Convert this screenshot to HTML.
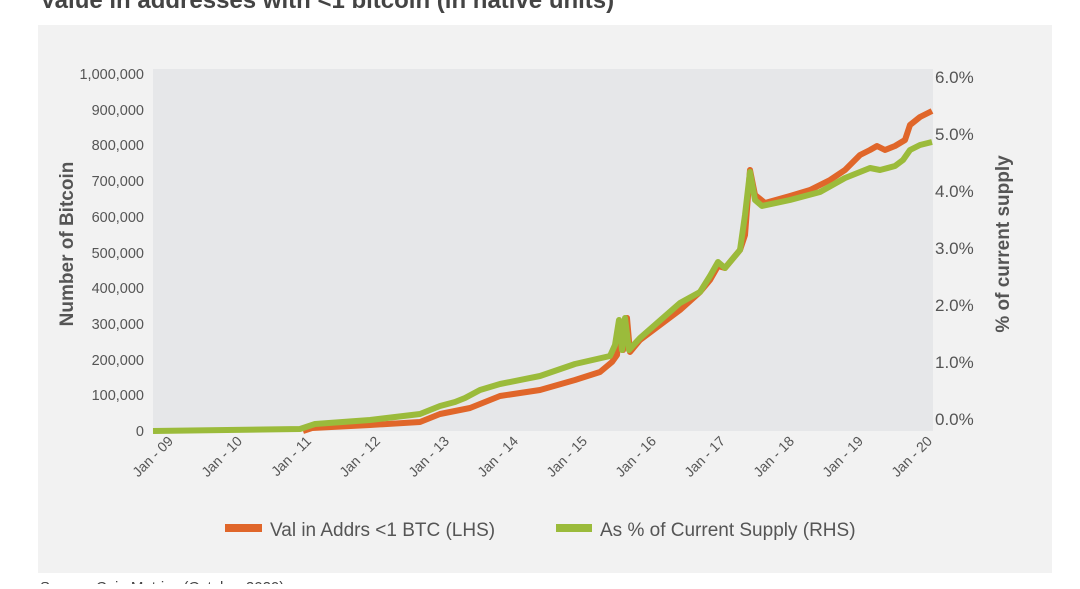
<!DOCTYPE html>
<html><head><meta charset="utf-8"><style>
body{margin:0;background:#fff;width:1080px;height:584px;overflow:hidden;font-family:"Liberation Sans",sans-serif}
</style></head><body>
<svg width="1080" height="584" xmlns="http://www.w3.org/2000/svg" font-family="Liberation Sans, sans-serif">
<text x="40" y="8" font-size="24" font-weight="bold" fill="#444">Value in addresses with &lt;1 bitcoin (in native units)</text>
<rect x="38" y="25" width="1014" height="548" fill="#f2f2f2"/>
<rect x="153" y="69" width="780" height="362" fill="#e6e7e9"/>
<g font-size="14.5" fill="#555" text-anchor="end">
<text x="144" y="79">1,000,000</text><text x="144" y="115">900,000</text><text x="144" y="150">800,000</text>
<text x="144" y="186">700,000</text><text x="144" y="222">600,000</text><text x="144" y="258">500,000</text>
<text x="144" y="293">400,000</text><text x="144" y="329">300,000</text><text x="144" y="365">200,000</text>
<text x="144" y="400">100,000</text><text x="144" y="436">0</text>
</g>
<g font-size="17" fill="#555">
<text x="935" y="83">6.0%</text><text x="935" y="140">5.0%</text><text x="935" y="197">4.0%</text>
<text x="935" y="254">3.0%</text><text x="935" y="311">2.0%</text><text x="935" y="368">1.0%</text><text x="935" y="425">0.0%</text>
</g>
<text transform="translate(73,244) rotate(-90)" text-anchor="middle" font-size="19" font-weight="bold" fill="#555">Number of Bitcoin</text>
<text transform="translate(1009,244) rotate(-90)" text-anchor="middle" font-size="19" font-weight="bold" fill="#555">% of current supply</text>
<g font-size="14" fill="#555" text-anchor="end">
<text transform="translate(174,442) rotate(-45)">Jan - 09</text>
<text transform="translate(243,442) rotate(-45)">Jan - 10</text>
<text transform="translate(312,442) rotate(-45)">Jan - 11</text>
<text transform="translate(381,442) rotate(-45)">Jan - 12</text>
<text transform="translate(450,442) rotate(-45)">Jan - 13</text>
<text transform="translate(519,442) rotate(-45)">Jan - 14</text>
<text transform="translate(588,442) rotate(-45)">Jan - 15</text>
<text transform="translate(657,442) rotate(-45)">Jan - 16</text>
<text transform="translate(726,442) rotate(-45)">Jan - 17</text>
<text transform="translate(795,442) rotate(-45)">Jan - 18</text>
<text transform="translate(864,442) rotate(-45)">Jan - 19</text>
<text transform="translate(933,442) rotate(-45)">Jan - 20</text>
</g>
<polyline fill="none" stroke="#e0662a" stroke-width="6" stroke-linejoin="round" points="303,431 312,428 370,425 420,422 440,414 470,408 480,404 500,396 540,390 575,380 600,372 612,362 617,355 620,322 623,350 627,318 630,352 640,340 680,310 700,292 710,280 718,266 725,268 740,250 745,235 750,170 755,195 765,203 790,196 810,190 830,180 845,170 860,155 870,150 877,146 885,150 895,146 905,140 910,125 920,117 932,111"/>
<polyline fill="none" stroke="#9bbb3b" stroke-width="6" stroke-linejoin="round" points="153,431 300,429 315,424 370,420 420,414 440,406 455,402 465,398 480,390 500,384 540,376 575,364 610,356 615,345 619,320 622,350 625,318 629,350 640,338 680,303 700,292 710,276 718,262 725,268 740,250 745,215 750,172 755,200 762,206 790,200 820,192 845,178 860,172 870,168 880,170 895,166 903,160 910,150 920,145 932,142"/>
<rect x="225" y="524" width="37" height="8" fill="#e0662a"/>
<text x="270" y="536" font-size="19" fill="#555">Val in Addrs &lt;1 BTC (LHS)</text>
<rect x="556" y="524" width="36" height="8" fill="#9bbb3b"/>
<text x="600" y="536" font-size="19" fill="#555">As % of Current Supply (RHS)</text>
<text x="40" y="592" font-size="15" fill="#444">Source: Coin Metrics (October 2020)</text>
</svg>
</body></html>
